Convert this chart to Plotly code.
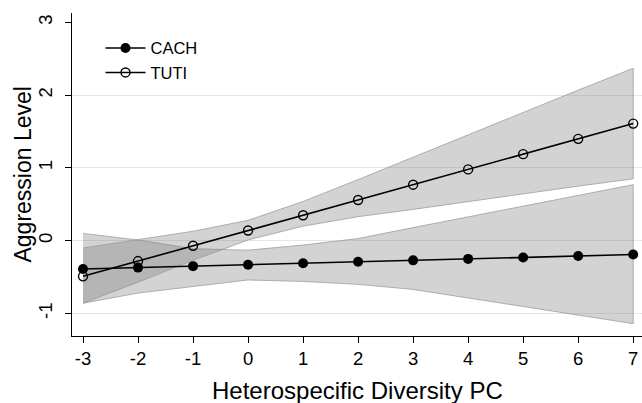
import plotly.graph_objects as go

x_vals = [-3, -2, -1, 0, 1, 2, 3, 4, 5, 6, 7]
cach_mean = [-0.39, -0.37, -0.35, -0.33, -0.31, -0.29, -0.27, -0.25, -0.23, -0.21, -0.19]
cach_upper = [0.10, 0.01, -0.11, -0.13, -0.06, 0.03, 0.18, 0.33, 0.47, 0.62, 0.77]
cach_lower = [-0.86, -0.72, -0.63, -0.54, -0.56, -0.60, -0.67, -0.79, -0.91, -1.02, -1.14]
tuti_mean = [-0.49, -0.28, -0.07, 0.14, 0.35, 0.56, 0.77, 0.98, 1.19, 1.40, 1.61]
tuti_upper = [-0.10, 0.01, 0.13, 0.28, 0.54, 0.84, 1.15, 1.46, 1.77, 2.07, 2.37]
tuti_lower = [-0.86, -0.57, -0.27, 0.01, 0.20, 0.33, 0.43, 0.53, 0.64, 0.75, 0.85]

x_ticks = [-3, -2, -1, 0, 1, 2, 3, 4, 5, 6, 7]
x_tick_labels = ["-3", "-2", "-1", "0", "1", "2", "3", "4", "5", "6", "7"]
y_ticks = [-1, 0, 1, 2, 3]
y_tick_labels = ["-1", "0", "1", "2", "3"]
grid_vals = [-1, 0, 1, 2]
x_title = "Heterospecific Diversity PC"
y_title = "Aggression Level"

FONT = "Liberation Sans, Arial, sans-serif"
band_fill = "rgba(120,120,120,0.33)"
band_line = "rgba(150,150,150,0.9)"

fig = go.Figure()

for up, lo in [(cach_upper, cach_lower), (tuti_upper, tuti_lower)]:
    fig.add_trace(go.Scatter(
        x=x_vals + x_vals[::-1], y=up + lo[::-1],
        fill="toself", fillcolor=band_fill, mode="lines",
        line=dict(color=band_line, width=0.8),
        showlegend=False, hoverinfo="skip"))

fig.add_trace(go.Scatter(
    x=x_vals, y=cach_mean, name="CACH", mode="lines+markers",
    line=dict(color="black", width=1.6),
    marker=dict(symbol="circle", size=10, color="black")))
fig.add_trace(go.Scatter(
    x=x_vals, y=tuti_mean, name="TUTI", mode="lines+markers",
    line=dict(color="black", width=1.6),
    marker=dict(symbol="circle-open", size=9, color="black", line=dict(width=1.4))))

# grid-only overlay axis
fig.add_trace(go.Scatter(x=[x_vals[0]], y=[grid_vals[0]], yaxis="y2",
                         mode="markers", marker=dict(opacity=0),
                         showlegend=False, hoverinfo="skip"))

fig.update_layout(
    width=642, height=403,
    margin=dict(l=72, r=0, t=13, b=67),
    paper_bgcolor="white", plot_bgcolor="white",
    font=dict(family=FONT, color="black"),
    showlegend=True,
    legend=dict(x=0.05, y=0.945, xanchor="left", yanchor="top",
                bgcolor="rgba(0,0,0,0)", font=dict(size=16.5, family=FONT),
                tracegroupgap=2, itemwidth=40),
    xaxis=dict(range=[-3.2, 7.16], tickvals=x_ticks, ticktext=x_tick_labels,
               ticks="outside", automargin=False,
               ticklen=6, tickcolor="black", showgrid=False, zeroline=False,
               showline=True, linecolor="black", linewidth=1,
               tickfont=dict(size=18.5)),
    yaxis=dict(range=[-1.31, 3.13], tickvals=y_ticks, ticktext=y_tick_labels,
               ticks="outside", automargin=False, ticklabelstandoff=6,
               ticklen=6, tickcolor="black", showgrid=False, zeroline=False,
               showline=True, linecolor="black", linewidth=1,
               tickangle=-90, tickfont=dict(size=18.5)),
    yaxis2=dict(range=[-1.31, 3.13], tickvals=grid_vals, overlaying="y",
                showticklabels=False, showgrid=True, gridcolor="#e6e6e6",
                gridwidth=1, zeroline=False, showline=False, layer="below traces"),
    annotations=[
        dict(text=x_title, xref="paper", yref="paper", x=0.5, y=-0.17,
             xanchor="center", yanchor="middle", showarrow=False,
             font=dict(size=24, family=FONT)),
        dict(text=y_title, xref="paper", yref="paper", x=-0.0877, y=0.5,
             xanchor="center", yanchor="middle", showarrow=False, textangle=-90,
             font=dict(size=23, family=FONT)),
    ],
)

fig.write_html("out.html", config={"displayModeBar": False},
               post_script="document.body.style.margin='0';document.body.style.overflow='hidden';")
